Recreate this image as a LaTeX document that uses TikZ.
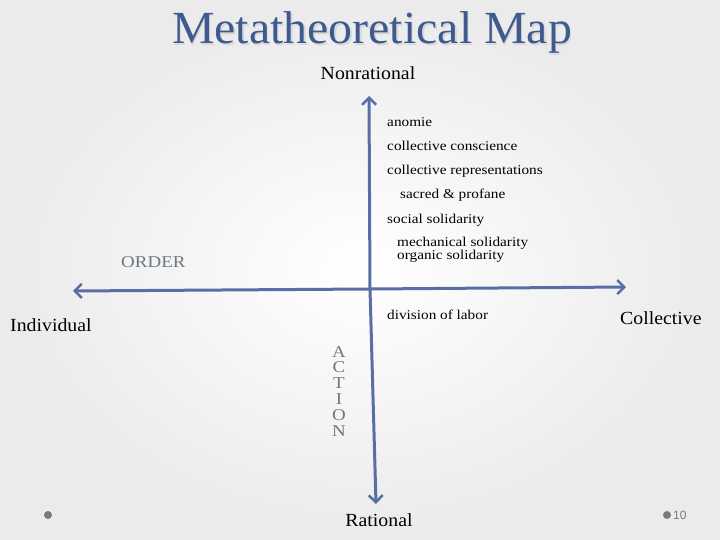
\documentclass[tikz,border=0pt]{standalone}
\usepackage{fontspec}
\setmainfont{Liberation Serif}
\newfontfamily\numfont{Liberation Sans}
\usetikzlibrary{arrows.meta,shadings}
\definecolor{axisblue}{HTML}{5A6EA6}
\definecolor{titleblue}{HTML}{3E5A8E}
\definecolor{labelgray}{HTML}{6E7780}
\definecolor{dotgray}{HTML}{7A7A7A}
\tikzset{
  axis/.style={draw=axisblue,line width=3pt,-{Straight Barb[length=7pt,width=14pt,line width=2.5pt]}},
  item/.style={anchor=base west,inner sep=0pt,xscale=1.13,font=\fontsize{13.5}{14}\selectfont},
  pole/.style={anchor=base,inner sep=0pt,xscale=1.07,font=\fontsize{18.5}{20}\selectfont},
  glabel/.style={inner sep=0pt,text=labelgray,xscale=1.15,font=\fontsize{16.5}{17}\selectfont},
  dot/.style={fill=dotgray,draw=none,circle,minimum size=8pt,inner sep=0pt}
}
\begin{document}
\begin{tikzpicture}[x=1pt,y=-1pt]
\useasboundingbox (0,0) rectangle (720,540);
\shade[inner color=white,outer color=gray!16] (0,0) rectangle (720,540);
% title
\node[anchor=base,inner sep=0pt,text=gray!30,xscale=1.04,font=\fontsize{46}{50}\selectfont] at (373.5,45.5) {Metatheoretical Map};
\node[anchor=base,inner sep=0pt,text=titleblue,xscale=1.04,font=\fontsize{46}{50}\selectfont] (title) at (372,44) {Metatheoretical Map};
% axes
\coordinate (c) at (370,289);
\coordinate (top) at (369,96);
\coordinate (bot) at (376,504);
\coordinate (left) at (73,291);
\coordinate (right) at (626,287);
\draw[axis] (c) -- (top);
\draw[axis] (c) -- (bot);
\draw[axis] (c) -- (left);
\draw[axis] (c) -- (right);
% poles
\node[pole] (nonr) at (368,80) {Nonrational};
\node[pole] (rat) at (379,526) {Rational};
\node[pole,anchor=base west] (ind) at (10,331) {Individual};
\node[pole,anchor=base west] (coll) at (620,324) {Collective};
% items
\node[item] (a1) at (387,127) {anomie};
\node[item] (a2) at (387,151) {collective conscience};
\node[item] (a3) at (387,175) {collective representations};
\node[item] (a4) at (400,199) {sacred \& profane};
\node[item] (a5) at (387,223) {social solidarity};
\node[item] (a6) at (397,247) {mechanical solidarity};
\node[item] (a7) at (397,259) {organic solidarity};
\node[item] (a8) at (387,319) {division of labor};
% gray labels
\node[glabel,anchor=base west] (order) at (121,267) {ORDER};
\node[glabel,anchor=north,align=center,font=\fontsize{16.5}{15.8}\selectfont] (action) at (339,346) {A\\C\\T\\I\\O\\N};
% footer
\node[dot] (d1) at (48,515) {};
\node[dot] (d2) at (667,515) {};
\node[anchor=west,inner sep=0pt,text=dotgray,font=\numfont\fontsize{12}{12}\selectfont] (pg) at (673,515) {10};
\end{tikzpicture}
\end{document}
